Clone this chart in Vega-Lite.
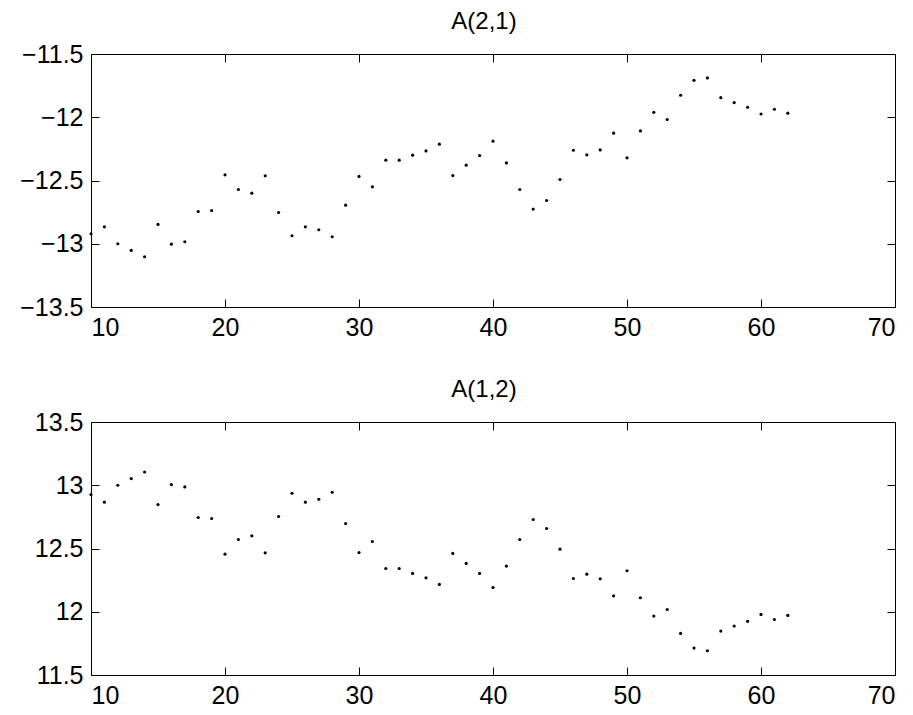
{
  "$schema": "https://vega.github.io/schema/vega-lite/v6.json",
  "padding": {"left": 6, "top": 10, "right": 0, "bottom": 0},
  "background": "white",
  "spacing": 38,
  "config": {
    "view": {"stroke": null},
    "font": "Liberation Sans",
    "axis": {
      "domainColor": "black",
      "domainWidth": 1,
      "tickColor": "black",
      "tickWidth": 1,
      "tickSize": -8,
      "grid": false,
      "labelFont": "Liberation Sans",
      "labelFontSize": 25,
      "labelColor": "black",
      "labelPadding": 16,
      "title": null
    },
    "title": {"font": "Liberation Sans", "fontSize": 24, "fontWeight": "normal", "color": "black", "offset": 8, "dx": -9}
  },
  "data": {
    "values": [
      {"x": 10, "a21": -12.921, "a12": 12.926},
      {"x": 11, "a21": -12.866, "a12": 12.866},
      {"x": 12, "a21": -13.0, "a12": 13.0},
      {"x": 13, "a21": -13.053, "a12": 13.053},
      {"x": 14, "a21": -13.103, "a12": 13.105},
      {"x": 15, "a21": -12.847, "a12": 12.847},
      {"x": 16, "a21": -13.003, "a12": 13.005},
      {"x": 17, "a21": -12.984, "a12": 12.987},
      {"x": 18, "a21": -12.745, "a12": 12.745},
      {"x": 19, "a21": -12.737, "a12": 12.737},
      {"x": 20, "a21": -12.455, "a12": 12.455},
      {"x": 21, "a21": -12.571, "a12": 12.571},
      {"x": 22, "a21": -12.6, "a12": 12.6},
      {"x": 23, "a21": -12.463, "a12": 12.466},
      {"x": 24, "a21": -12.753, "a12": 12.753},
      {"x": 25, "a21": -12.937, "a12": 12.937},
      {"x": 26, "a21": -12.866, "a12": 12.866},
      {"x": 27, "a21": -12.889, "a12": 12.889},
      {"x": 28, "a21": -12.945, "a12": 12.945},
      {"x": 29, "a21": -12.695, "a12": 12.697},
      {"x": 30, "a21": -12.468, "a12": 12.468},
      {"x": 31, "a21": -12.55, "a12": 12.555},
      {"x": 32, "a21": -12.339, "a12": 12.342},
      {"x": 33, "a21": -12.339, "a12": 12.342},
      {"x": 34, "a21": -12.3, "a12": 12.303},
      {"x": 35, "a21": -12.266, "a12": 12.268},
      {"x": 36, "a21": -12.213, "a12": 12.216},
      {"x": 37, "a21": -12.461, "a12": 12.461},
      {"x": 38, "a21": -12.379, "a12": 12.382},
      {"x": 39, "a21": -12.303, "a12": 12.303},
      {"x": 40, "a21": -12.189, "a12": 12.192},
      {"x": 41, "a21": -12.361, "a12": 12.361},
      {"x": 42, "a21": -12.571, "a12": 12.571},
      {"x": 43, "a21": -12.726, "a12": 12.729},
      {"x": 44, "a21": -12.658, "a12": 12.658},
      {"x": 45, "a21": -12.492, "a12": 12.495},
      {"x": 46, "a21": -12.261, "a12": 12.263},
      {"x": 47, "a21": -12.297, "a12": 12.297},
      {"x": 48, "a21": -12.258, "a12": 12.261},
      {"x": 49, "a21": -12.126, "a12": 12.126},
      {"x": 50, "a21": -12.321, "a12": 12.324},
      {"x": 51, "a21": -12.108, "a12": 12.111},
      {"x": 52, "a21": -11.961, "a12": 11.966},
      {"x": 53, "a21": -12.018, "a12": 12.018},
      {"x": 54, "a21": -11.826, "a12": 11.829},
      {"x": 55, "a21": -11.708, "a12": 11.713},
      {"x": 56, "a21": -11.689, "a12": 11.692},
      {"x": 57, "a21": -11.845, "a12": 11.847},
      {"x": 58, "a21": -11.884, "a12": 11.887},
      {"x": 59, "a21": -11.921, "a12": 11.924},
      {"x": 60, "a21": -11.974, "a12": 11.979},
      {"x": 61, "a21": -11.937, "a12": 11.939},
      {"x": 62, "a21": -11.968, "a12": 11.971}
    ]
  },
  "vconcat": [
    {
      "title": {"text": "A(2,1)"},
      "width": 804,
      "height": 253,
      "layer": [
        {
          "mark": {"type": "circle", "size": 10, "color": "black", "opacity": 1},
          "encoding": {
            "x": {"field": "x", "type": "quantitative", "scale": {"domain": [10, 70], "nice": false, "zero": false},
                  "axis": {"orient": "bottom", "values": [10, 20, 30, 40, 50, 60, 70], "format": "d"}},
            "y": {"field": "a21", "type": "quantitative", "scale": {"domain": [-13.5, -11.5], "nice": false, "zero": false},
                  "axis": {"orient": "left", "values": [-13.5, -13, -12.5, -12, -11.5], "format": "~g", "minExtent": 85, "maxExtent": 85}}
          }
        },
        {
          "mark": {"type": "circle", "size": 10, "color": "black", "opacity": 0},
          "encoding": {
            "x": {"field": "x", "type": "quantitative", "axis": {"orient": "top", "values": [10, 20, 30, 40, 50, 60, 70], "labels": false}},
            "y": {"field": "a21", "type": "quantitative", "axis": {"orient": "right", "values": [-13.5, -13, -12.5, -12, -11.5], "labels": false}}
          }
        }
      ],
      "resolve": {"axis": {"x": "independent", "y": "independent"}}
    },
    {
      "title": {"text": "A(1,2)"},
      "width": 804,
      "height": 253,
      "layer": [
        {
          "mark": {"type": "circle", "size": 10, "color": "black", "opacity": 1},
          "encoding": {
            "x": {"field": "x", "type": "quantitative", "scale": {"domain": [10, 70], "nice": false, "zero": false},
                  "axis": {"orient": "bottom", "values": [10, 20, 30, 40, 50, 60, 70], "format": "d"}},
            "y": {"field": "a12", "type": "quantitative", "scale": {"domain": [11.5, 13.5], "nice": false, "zero": false},
                  "axis": {"orient": "left", "values": [11.5, 12, 12.5, 13, 13.5], "format": "~g", "minExtent": 85, "maxExtent": 85}}
          }
        },
        {
          "mark": {"type": "circle", "size": 10, "color": "black", "opacity": 0},
          "encoding": {
            "x": {"field": "x", "type": "quantitative", "axis": {"orient": "top", "values": [10, 20, 30, 40, 50, 60, 70], "labels": false}},
            "y": {"field": "a12", "type": "quantitative", "axis": {"orient": "right", "values": [11.5, 12, 12.5, 13, 13.5], "labels": false}}
          }
        }
      ],
      "resolve": {"axis": {"x": "independent", "y": "independent"}}
    }
  ]
}
